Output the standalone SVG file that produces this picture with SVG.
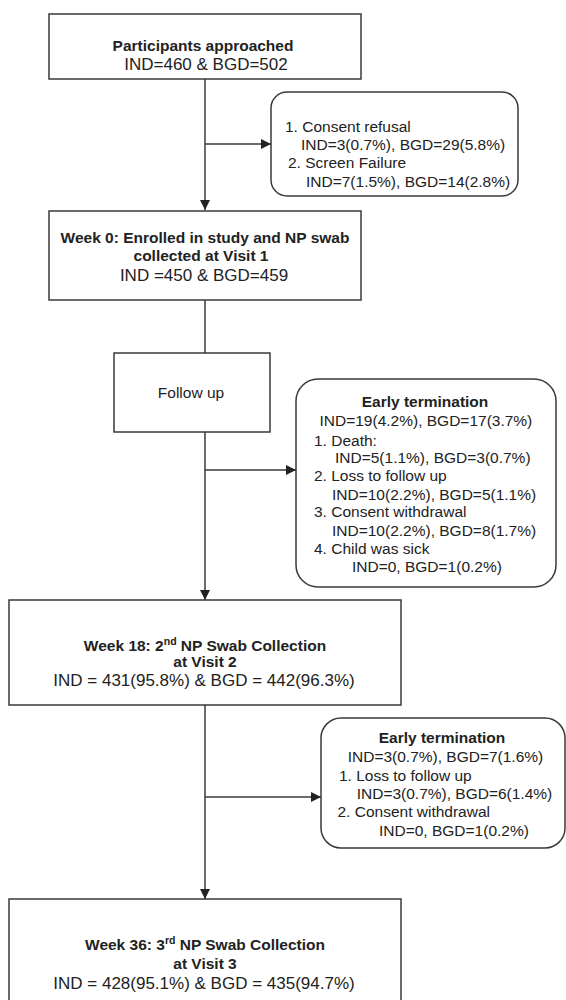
<svg xmlns="http://www.w3.org/2000/svg" width="566" height="1000" viewBox="0 0 566 1000">
<defs>
<marker id="arr" viewBox="0 0 10 10" refX="10" refY="5" markerWidth="10" markerHeight="10" markerUnits="userSpaceOnUse" orient="auto">
<path d="M0,0 L10,5 L0,10 Z" fill="#222"/>
</marker>
<style>
.box{fill:#fff;stroke:#3a3a3a;stroke-width:1.5}
.ln{fill:none;stroke:#3a3a3a;stroke-width:1.5}
text{font-family:"Liberation Sans",Arial,sans-serif;fill:#222}
.b{font-weight:bold;font-size:15.5px}
.m{font-size:17px}
.s{font-size:15.5px}
.c{text-anchor:middle}
</style>
</defs>
<rect width="566" height="1000" fill="#fff"/>
<g id="connectors">
<line class="ln" x1="205" y1="79" x2="205" y2="210" marker-end="url(#arr)"/>
<line class="ln" x1="205" y1="144" x2="271" y2="144" marker-end="url(#arr)"/>
<line class="ln" x1="205" y1="300" x2="205" y2="353"/>
<line class="ln" x1="205" y1="432" x2="205" y2="600" marker-end="url(#arr)"/>
<line class="ln" x1="205" y1="470" x2="296" y2="470" marker-end="url(#arr)"/>
<line class="ln" x1="205" y1="705" x2="205" y2="899" marker-end="url(#arr)"/>
<line class="ln" x1="205" y1="797" x2="321" y2="797" marker-end="url(#arr)"/>
</g>
<g id="approached">
<rect class="box" x="49" y="14" width="312" height="65"/>
<text class="b c" x="203" y="51">Participants approached</text>
<text class="m c" x="206" y="69.5">IND=460 &amp; BGD=502</text>
</g>
<g id="exclusion1">
<rect class="box" x="271" y="92" width="247" height="104" rx="16"/>
<text class="s" x="285" y="131.5">1. Consent refusal</text>
<text class="s" x="301" y="149.5">IND=3(0.7%), BGD=29(5.8%)</text>
<text class="s" x="288" y="168">2. Screen Failure</text>
<text class="s" x="306" y="187">IND=7(1.5%), BGD=14(2.8%)</text>
</g>
<g id="week0">
<rect class="box" x="49" y="211" width="312" height="89"/>
<text class="b c" x="205" y="243">Week 0: Enrolled in study and NP swab</text>
<text class="b c" x="201" y="261">collected at Visit 1</text>
<text class="m c" x="204" y="281">IND =450 &amp; BGD=459</text>
</g>
<g id="followup">
<rect class="box" x="114" y="353" width="156" height="79"/>
<text class="s c" x="191" y="398">Follow up</text>
</g>
<g id="termination1">
<rect class="box" x="296" y="379" width="260" height="208" rx="22"/>
<text class="b c" x="425" y="406.5">Early termination</text>
<text class="s" x="319.5" y="426">IND=19(4.2%), BGD=17(3.7%)</text>
<text class="s" x="314" y="445.5">1. Death:</text>
<text class="s" x="335" y="463">IND=5(1.1%), BGD=3(0.7%)</text>
<text class="s" x="314" y="480.5">2. Loss to follow up</text>
<text class="s" x="332" y="500">IND=10(2.2%), BGD=5(1.1%)</text>
<text class="s" x="314" y="517">3. Consent withdrawal</text>
<text class="s" x="332" y="535.5">IND=10(2.2%), BGD=8(1.7%)</text>
<text class="s" x="314" y="554">4. Child was sick</text>
<text class="s" x="352" y="572">IND=0, BGD=1(0.2%)</text>
</g>
<g id="week18">
<rect class="box" x="9" y="600" width="392" height="105"/>
<text class="b c" x="205" y="651">Week 18: 2<tspan font-size="10.5" dy="-6">nd</tspan><tspan dy="6"> NP Swab Collection</tspan></text>
<text class="b c" x="205" y="667">at Visit 2</text>
<text class="m c" x="204" y="686">IND = 431(95.8%) &amp; BGD = 442(96.3%)</text>
</g>
<g id="termination2">
<rect class="box" x="321" y="718" width="244" height="130" rx="20"/>
<text class="b c" x="442" y="743">Early termination</text>
<text class="s" x="347.7" y="762">IND=3(0.7%), BGD=7(1.6%)</text>
<text class="s" x="339" y="780.5">1. Loss to follow up</text>
<text class="s" x="356.7" y="798.5">IND=3(0.7%), BGD=6(1.4%)</text>
<text class="s" x="337.5" y="817">2. Consent withdrawal</text>
<text class="s" x="379" y="835.5">IND=0, BGD=1(0.2%)</text>
</g>
<g id="week36">
<rect class="box" x="9" y="899" width="392" height="115"/>
<text class="b c" x="205" y="950">Week 36: 3<tspan font-size="10.5" dy="-6">rd</tspan><tspan dy="6"> NP Swab Collection</tspan></text>
<text class="b c" x="205" y="969">at Visit 3</text>
<text class="m c" x="204" y="988.5">IND = 428(95.1%) &amp; BGD = 435(94.7%)</text>
</g>
</svg>
